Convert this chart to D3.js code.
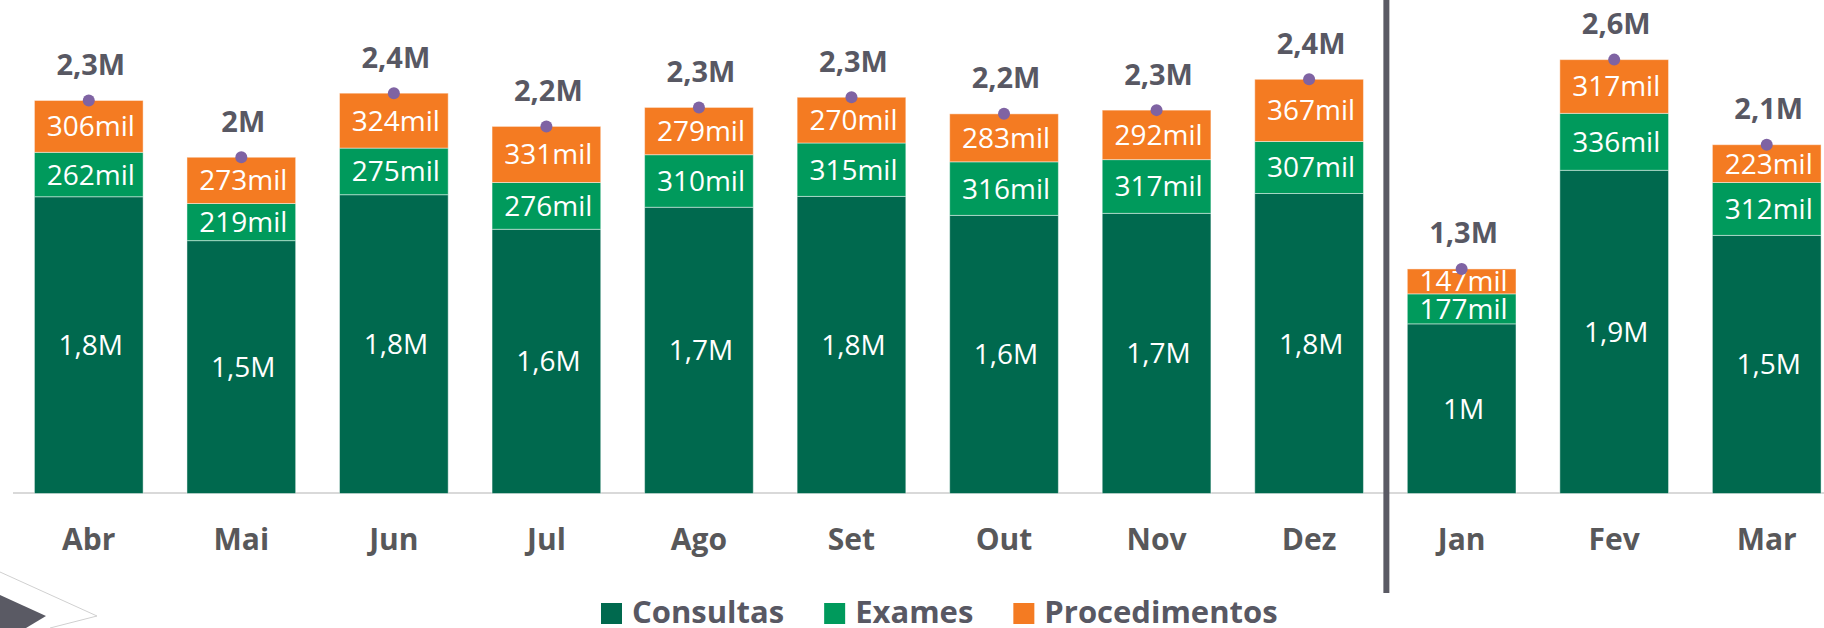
<!DOCTYPE html>
<html>
<head>
<meta charset="utf-8">
<script src="https://cdn.jsdelivr.net/npm/d3@7"></script>
<style>
  html, body { margin: 0; padding: 0; background: #fff; }
  svg { display: block; font-family: "Open Sans", Lato, sans-serif; }
</style>
</head>
<body>
<svg id="chart"></svg>
<script>
// valores
const months = ["Abr", "Mai", "Jun", "Jul", "Ago", "Set", "Out", "Nov", "Dez", "Jan", "Fev", "Mar"];
const consultas = [1751000, 1492000, 1763000, 1559000, 1689000, 1753000, 1641000, 1653000, 1770000, 1001000, 1907000, 1523000];
const exames = [262000, 219000, 275000, 276000, 310000, 315000, 316000, 317000, 307000, 177000, 336000, 312000];
const procedimentos = [306000, 273000, 324000, 331000, 279000, 270000, 283000, 292000, 367000, 147000, 317000, 223000];
const seriesNames = ["Consultas", "Exames", "Procedimentos"];
const colors = ["#00694e", "#009a5c", "#f47b22"];

const w = 1824;
const h = 628;

const svg = d3.select("#chart")
  .attr("width", w)
  .attr("height", h);

const rows = months.map((m, i) => ({
  month: m,
  Consultas: consultas[i],
  Exames: exames[i],
  Procedimentos: procedimentos[i]
}));

const x = d3.scaleBand()
  .domain(months)
  .range([12.5, 1843])
  .paddingInner(0.2875)
  .paddingOuter(0.14375);

const y = d3.scaleLinear()
  .domain([0, 2900000])
  .range([493.5, 2]);

const stack = d3.stack().keys(seriesNames);
const stacked = stack(rows);

const fmtM = v => String(Math.round(v / 1e5) / 10).replace(".", ",") + "M";
const fmtMil = v => Math.round(v / 1000) + "mil";

// eixo x
const axis = svg.append("g")
  .attr("transform", "translate(0,492.5)")
  .call(d3.axisBottom(x).tickSize(0).tickSizeOuter(0));

axis.select(".domain")
  .attr("stroke", "#d9d9d9")
  .attr("stroke-width", 2);

axis.selectAll("text")
  .attr("y", 57)
  .attr("dy", null)
  .attr("fill", "#58585a")
  .style("font-family", "'Open Sans', sans-serif")
  .style("font-size", "30px")
  .style("font-weight", "bold");

// barras empilhadas
const layers = svg.selectAll("g.layer")
  .data(stacked)
  .enter()
  .append("g")
  .attr("class", "layer")
  .attr("fill", (d, i) => colors[i]);

layers.selectAll("rect")
  .data(d => d)
  .enter()
  .append("rect")
  .attr("x", d => x(d.data.month))
  .attr("width", x.bandwidth())
  .attr("y", d => y(d[1]))
  .attr("height", d => y(d[0]) - y(d[1]))
  .attr("stroke", "rgba(255,255,255,0.45)")
  .attr("stroke-width", 1);

// rotulos dos segmentos
layers.selectAll("text")
  .data((d, i) => d.map(p => ({ p: p, key: seriesNames[i] })))
  .enter()
  .append("text")
  .attr("x", d => x(d.p.data.month) + x.bandwidth() / 2 + 2)
  .attr("y", d => (y(d.p[0]) + y(d.p[1])) / 2 + 10)
  .attr("text-anchor", "middle")
  .attr("fill", "#fff")
  .style("font-size", "28px")
  .text(d => d.key === "Consultas" ? fmtM(d.p.data[d.key]) : fmtMil(d.p.data[d.key]));

// separador entre os anos
const sepX = (x("Dez") + x.bandwidth() + x("Jan")) / 2 + 1;
svg.append("line")
  .attr("x1", sepX).attr("x2", sepX)
  .attr("y1", 0).attr("y2", 593)
  .attr("stroke", "#5a5a64")
  .attr("stroke-width", 6);

// totais
const totals = rows.map(r => r.Consultas + r.Exames + r.Procedimentos);

svg.selectAll("circle.tot")
  .data(rows)
  .enter()
  .append("circle")
  .attr("class", "tot")
  .attr("cx", d => x(d.month) + x.bandwidth() / 2)
  .attr("cy", (d, i) => y(totals[i]))
  .attr("r", 6)
  .attr("fill", "#7f63a3");

svg.selectAll("text.tot")
  .data(rows)
  .enter()
  .append("text")
  .attr("class", "tot")
  .attr("x", d => x(d.month) + x.bandwidth() / 2 + 2)
  .attr("y", (d, i) => y(totals[i]) - 25.5)
  .attr("text-anchor", "middle")
  .attr("fill", "#585863")
  .style("font-size", "29px")
  .style("font-weight", "bold")
  .text((d, i) => fmtM(totals[i]));

// legenda
const legend = svg.append("g");
let lx = 601;
seriesNames.forEach((name, i) => {
  legend.append("rect")
    .attr("x", lx).attr("y", 603)
    .attr("width", 21).attr("height", 21)
    .attr("fill", colors[i]);
  const t = legend.append("text")
    .attr("x", lx + 31)
    .attr("y", 623)
    .attr("fill", "#585863")
    .style("font-size", "31px")
    .style("font-weight", "bold")
    .text(name);
  lx += 31 + t.node().getComputedTextLength() + 40;
});

// detalhe decorativo no canto
svg.append("polyline")
  .attr("points", "0,572 97,616 50,628")
  .attr("fill", "none")
  .attr("stroke", "#d0d0d0")
  .attr("stroke-width", 1);

svg.append("polygon")
  .attr("points", "0,595 46,616 26,628 0,628")
  .attr("fill", "#5a5a64");
</script>
</body>
</html>
